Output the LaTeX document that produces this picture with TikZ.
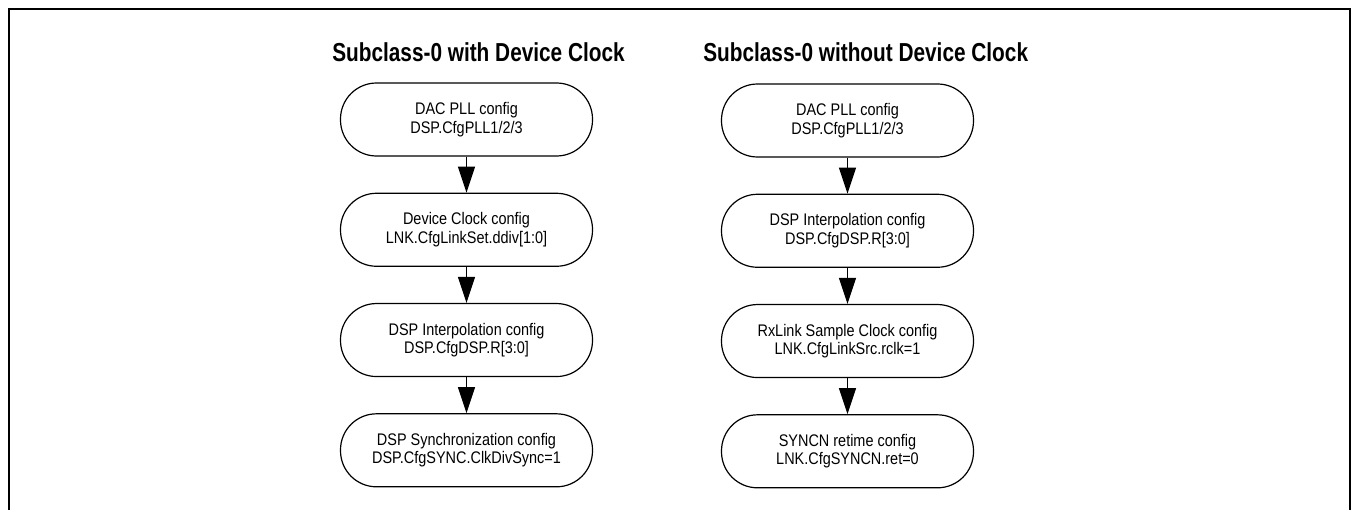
\documentclass[tikz,border=0pt]{standalone}
\usepackage{fontspec}
\usetikzlibrary{arrows.meta, positioning}
\newfontfamily\boxfont[FakeStretch=0.86]{Liberation Sans}
\newfontfamily\headfont[FakeStretch=0.8]{Liberation Sans}

\tikzset{
  cfg/.style={draw, line width=0.9pt, rounded corners=27pt, minimum width=189pt,
    minimum height=54.75pt, align=center, inner sep=0pt,
    font=\boxfont\fontsize{12.6}{13.8}\selectfont},
  head/.style={anchor=base west, inner sep=0pt,
    font=\headfont\bfseries\fontsize{19.5}{22}\selectfont},
  flow/.style={-{Triangle[width=12.75pt, length=19.5pt]}, line width=0.9pt}
}

\begin{document}
\begin{tikzpicture}[x=0.75pt, y=-0.75pt, node distance=82.7pt, on grid]
        \useasboundingbox (0,0) rectangle (1353,510);
        \draw[line width=1.5pt] (9,510) -- (9,9) -- (1350,9) -- (1350,510);

        % with device clock
        \node[head] (hwith) at (332,61.5) {Subclass-0 with Device Clock};
        \node[cfg] (pllA) at (466.5,119.5) {DAC PLL config\\DSP.CfgPLL1/2/3};
        \node[cfg] (dclkA) [below=of pllA] {Device Clock config\\LNK.CfgLinkSet.ddiv[1:0]};
        \node[cfg] (interpA) [below=of dclkA] {DSP Interpolation config\\DSP.CfgDSP.R[3:0]};
        \node[cfg] (syncA) [below=of interpA] {DSP Synchronization config\\DSP.CfgSYNC.ClkDivSync=1};

        % without device clock
        \node[head] (hwithout) at (703,61.5) {Subclass-0 without Device Clock};
        \node[cfg] (pllB) at (847.5,120.5) {DAC PLL config\\DSP.CfgPLL1/2/3};
        \node[cfg] (interpB) [below=of pllB] {DSP Interpolation config\\DSP.CfgDSP.R[3:0]};
        \node[cfg] (rclkB) [below=of interpB] {RxLink Sample Clock config\\LNK.CfgLinkSrc.rclk=1};
        \node[cfg] (syncnB) [below=of rclkB] {SYNCN retime config\\LNK.CfgSYNCN.ret=0};

        \draw[flow] (pllA) -- (dclkA);
        \draw[flow] (dclkA) -- (interpA);
        \draw[flow] (interpA) -- (syncA);
        \draw[flow] (pllB) -- (interpB);
        \draw[flow] (interpB) -- (rclkB);
        \draw[flow] (rclkB) -- (syncnB);
    \end{tikzpicture}
\end{document}
